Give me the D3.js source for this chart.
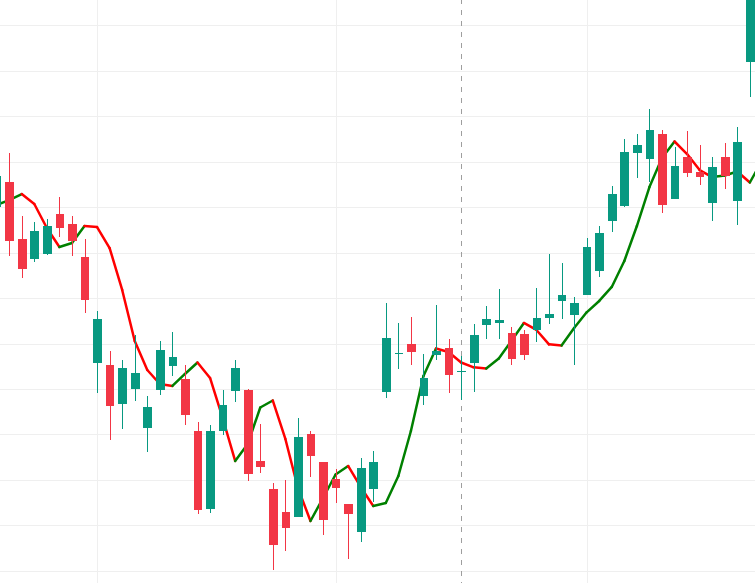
<!DOCTYPE html>
<html>
<head>
<meta charset="utf-8">
<script src="https://cdn.jsdelivr.net/npm/d3@7"></script>
<style>
  html, body { margin: 0; padding: 0; background: #ffffff; }
  #chart { width: 755px; height: 583px; overflow: hidden; }
</style>
</head>
<body>
<div id="chart"></div>
<script>
// OHLC per session (price units)
var opens  = [140.01,142.76,136.49,134.33,134.88,139.24,138.14,134.52,122.89,122.64,118.38,120.03,115.74,119.92,122.56,121.10,115.38,106.83,115.41,119.81,119.89,112.08,109.00,106.47,105.95,115.05,111.97,110.10,107.35,104.30,109.03,119.70,123.90,124.98,119.26,123.77,124.51,121.92,122.89,127.07,127.29,126.16,126.05,126.54,127.84,129.71,128.17,130.37,133.01,138.51,140.16,145.99,145.33,148.04,140.93,145.51,143.86,140.49,145.51,140.71,156.00]
var highs  = [144.30,145.99,139.02,138.36,138.69,141.11,139.02,136.49,128.58,124.18,123.19,125.94,119.23,125.28,126.27,122.64,116.37,116.04,119.89,123.19,120.00,116.15,109.66,109.99,116.81,115.38,112.00,111.20,107.40,112.41,113.18,129.46,127.26,127.92,123.85,129.24,125.50,123.63,127.15,129.13,131.05,126.82,126.49,131.11,134.81,133.85,130.08,136.57,137.89,142.29,147.46,148.04,150.79,148.48,146.65,148.37,146.87,145.55,147.09,148.81,166.00]
var lows   = [139.24,134.66,132.24,134.00,134.77,136.71,134.66,128.39,119.59,114.39,115.63,118.71,113.10,119.37,121.46,116.07,106.28,106.39,114.97,118.60,109.91,110.79,100.12,102.21,105.90,110.35,103.97,107.49,101.33,103.20,107.60,119.04,122.23,122.67,118.27,123.22,119.59,118.83,119.70,125.53,125.53,122.67,123.22,125.20,127.20,127.73,122.67,130.30,132.35,137.30,140.05,143.24,142.80,139.39,140.90,143.35,142.47,138.51,142.03,138.07,152.15]
var closes = [143.42,136.31,133.23,137.37,137.92,137.70,136.31,129.82,127.70,118.13,122.31,121.76,118.02,124.29,123.52,117.17,106.72,115.38,118.24,122.31,110.68,111.45,102.87,104.74,114.72,112.66,105.62,109.14,106.28,111.31,111.97,125.61,124.01,124.10,121.21,124.18,121.57,122.03,125.94,127.70,127.59,123.33,123.77,127.77,128.21,130.30,129.42,135.61,137.12,141.44,146.03,146.83,148.48,140.27,144.52,143.79,143.35,144.41,143.46,147.16,164.98]

// moving average line (one value per session, last one runs past the edge)
var maValues = [140.23,140.78,141.44,140.34,137.70,135.61,136.05,137.92,137.81,135.50,130.89,125.28,122.09,120.55,120.33,121.65,122.91,121.21,116.81,112.08,113.95,117.96,118.73,114.50,109.11,105.48,108.01,110.59,111.53,109.22,107.13,107.46,110.43,115.38,121.43,124.45,124.07,122.91,122.38,122.25,123.35,125.28,127.26,126.49,124.91,124.78,126.71,128.43,129.68,131.22,134.08,137.92,142.21,145.40,147.22,145.84,144.08,143.31,143.48,143.92,142.71,145.18]

// grid
var priceTicks = [100,105,110,115,120,125,130,135,140,145,150,155,160]
var monthStarts = [8, 27, 47]
var markerSession = 37

var width = 755, height = 583

var upColor = "#089981", downColor = "#f23645"
var maUp = "#008000", maDown = "#ff0000"

var x = d3.scaleLinear().domain([1, 59]).range([9.2, 737.3])
var y = d3.scaleLinear().domain([100, 160]).range([570.8, 25.3])
var step = x(1) - x(0)
var bodyW = step * 0.69

var svg = d3.select("#chart").append("svg")
    .attr("width", width)
    .attr("height", height)
    .style("display", "block")

svg.append("rect").attr("width", width).attr("height", height).attr("fill", "#ffffff")

var grid = svg.append("g").attr("shape-rendering", "crispEdges")

grid.selectAll(".hgrid")
    .data(priceTicks)
    .enter()
    .append("line")
        .attr("x1", 0).attr("x2", width)
        .attr("y1", d => Math.round(y(d)) + 0.5)
        .attr("y2", d => Math.round(y(d)) + 0.5)
        .attr("stroke", "#efefef")
        .attr("stroke-width", 1)

grid.selectAll(".vgrid")
    .data(monthStarts)
    .enter()
    .append("line")
        .attr("x1", d => Math.round(x(d)) + 0.5)
        .attr("x2", d => Math.round(x(d)) + 0.5)
        .attr("y1", 0).attr("y2", height)
        .attr("stroke", "#efefef")
        .attr("stroke-width", 1)

// dashed marker
svg.append("line")
    .attr("x1", Math.round(x(markerSession)) + 0.5)
    .attr("x2", Math.round(x(markerSession)) + 0.5)
    .attr("y1", 0).attr("y2", height)
    .attr("stroke", "#9e9e9e")
    .attr("stroke-width", 1)
    .attr("stroke-dasharray", "5,6")
    .attr("stroke-dashoffset", 1)
    .attr("shape-rendering", "crispEdges")

// MA line, coloured by direction of each segment
var segs = []
for (var i = 0; i < maValues.length - 1; i++) {
    segs.push({i: i, a: maValues[i], b: maValues[i + 1]})
}

svg.append("g").selectAll("line")
    .data(segs)
    .enter()
    .append("line")
        .attr("x1", d => x(d.i))
        .attr("y1", d => y(d.a))
        .attr("x2", d => x(d.i + 1))
        .attr("y2", d => y(d.b))
        .attr("stroke", d => d.b >= d.a ? maUp : maDown)
        .attr("stroke-width", 2.5)
        .attr("stroke-linecap", "round")

// candles
var candles = opens.map((o, i) => ({i: i, o: o, h: highs[i], l: lows[i], c: closes[i]}))

var cg = svg.append("g").attr("shape-rendering", "crispEdges")

var candle = cg.selectAll(".candle")
    .data(candles)
    .enter()
    .append("g")

candle.append("rect")
    .attr("x", d => Math.round(x(d.i)))
    .attr("width", 1)
    .attr("y", d => y(d.h))
    .attr("height", d => Math.max(1, y(d.l) - y(d.h)))
    .attr("fill", d => d.c >= d.o ? upColor : downColor)

candle.append("rect")
    .attr("x", d => x(d.i) + 0.5 - bodyW / 2)
    .attr("width", bodyW)
    .attr("y", d => y(Math.max(d.o, d.c)))
    .attr("height", d => Math.max(1.2, Math.abs(y(d.o) - y(d.c))))
    .attr("fill", d => d.c >= d.o ? upColor : downColor)
</script>
</body>
</html>
